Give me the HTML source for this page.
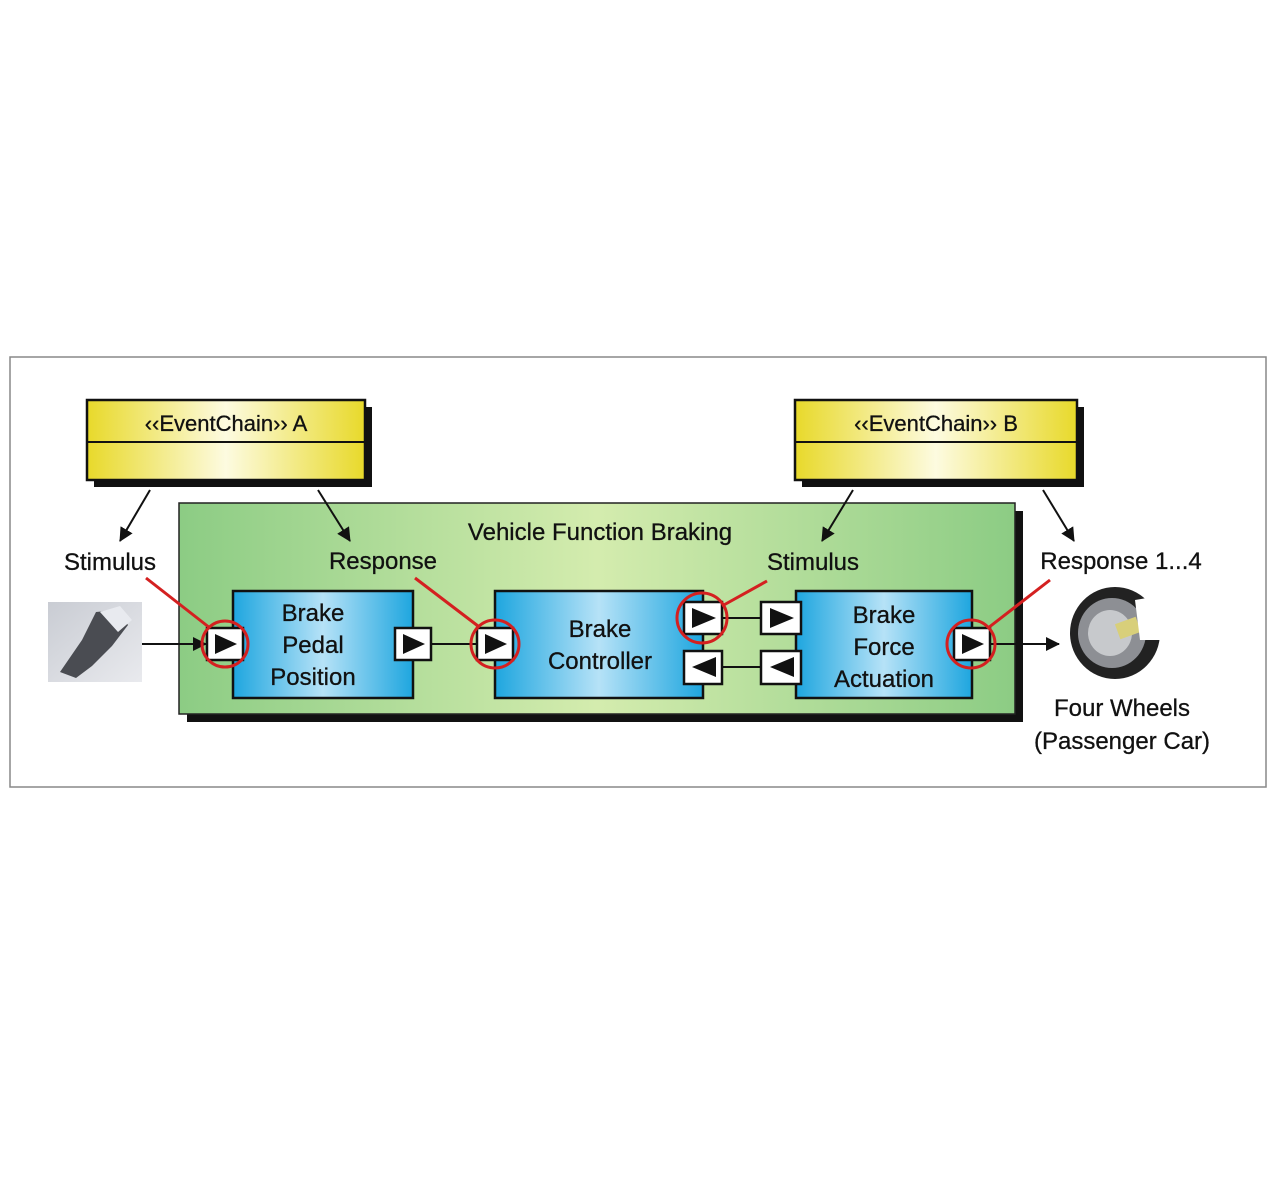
<!DOCTYPE html>
<html><head><meta charset="utf-8"><style>
html,body{margin:0;padding:0;background:#fff;}
svg{display:block;}
text{font-family:"Liberation Sans",sans-serif;fill:#111;stroke:#111;stroke-width:0.3;}
</style></head><body>
<svg width="1280" height="1190" viewBox="0 0 1280 1190" xmlns="http://www.w3.org/2000/svg">
<defs>
<linearGradient id="yel" x1="0" x2="1" y1="0" y2="0">
<stop offset="0" stop-color="#e8d92a"/><stop offset="0.5" stop-color="#fdfbe0"/><stop offset="1" stop-color="#e8d92a"/>
</linearGradient>
<linearGradient id="grn" x1="0" x2="1" y1="0" y2="0">
<stop offset="0" stop-color="#8ccc84"/><stop offset="0.5" stop-color="#d4ecae"/><stop offset="1" stop-color="#8ccc84"/>
</linearGradient>
<linearGradient id="blu" x1="0" x2="1" y1="0" y2="0">
<stop offset="0" stop-color="#1ea6df"/><stop offset="0.5" stop-color="#b6e2f7"/><stop offset="1" stop-color="#1ea6df"/>
</linearGradient>
<linearGradient id="ped" x1="0" x2="1" y1="0" y2="1">
<stop offset="0" stop-color="#c9ccd3"/><stop offset="1" stop-color="#e9eaee"/>
</linearGradient>
<marker id="ah" markerWidth="14" markerHeight="14" refX="13" refY="7" orient="auto" markerUnits="userSpaceOnUse">
<path d="M0,0 L14,7 L0,14 z" fill="#111"/>
</marker>
</defs>
<rect x="10" y="357" width="1256" height="430" fill="#fff" stroke="#888" stroke-width="1.5"/>

<rect x="94" y="407" width="278" height="80" fill="#111"/>
<rect x="87" y="400" width="278" height="80" fill="url(#yel)" stroke="#111" stroke-width="2.5"/>
<line x1="87" y1="442" x2="365" y2="442" stroke="#111" stroke-width="2"/>
<text x="226" y="431" font-size="22" text-anchor="middle">‹‹EventChain›› A</text>
<rect x="802" y="407" width="282" height="80" fill="#111"/>
<rect x="795" y="400" width="282" height="80" fill="url(#yel)" stroke="#111" stroke-width="2.5"/>
<line x1="795" y1="442" x2="1077" y2="442" stroke="#111" stroke-width="2"/>
<text x="936" y="431" font-size="22" text-anchor="middle">‹‹EventChain›› B</text>

<rect x="187" y="511" width="836" height="211" fill="#111"/>
<rect x="179" y="503" width="836" height="211" fill="url(#grn)" stroke="#222" stroke-width="1.5"/>
<text x="600" y="540" font-size="24" text-anchor="middle">Vehicle Function Braking</text>

<g stroke="#111" stroke-width="2" marker-end="url(#ah)">
<line x1="150" y1="490" x2="120" y2="541"/>
<line x1="318" y1="490" x2="350" y2="541"/>
<line x1="853" y1="490" x2="822" y2="541"/>
<line x1="1043" y1="490" x2="1074" y2="541"/>
</g>

<rect x="233" y="591" width="180" height="107" fill="url(#blu)" stroke="#111" stroke-width="2.5"/>
<rect x="495" y="591" width="208" height="107" fill="url(#blu)" stroke="#111" stroke-width="2.5"/>
<rect x="796" y="591" width="176" height="107" fill="url(#blu)" stroke="#111" stroke-width="2.5"/>
<g font-size="24" text-anchor="middle">
<text x="313" y="621">Brake</text><text x="313" y="653">Pedal</text><text x="313" y="685">Position</text>
<text x="600" y="637">Brake</text><text x="600" y="669">Controller</text>
<text x="884" y="623">Brake</text><text x="884" y="655">Force</text><text x="884" y="687">Actuation</text>
</g>

<g stroke="#111" stroke-width="2">
<line x1="142" y1="644" x2="206" y2="644" marker-end="url(#ah)"/>
<line x1="431" y1="644" x2="477" y2="644"/>
<line x1="723" y1="618" x2="760" y2="618"/>
<line x1="723" y1="667" x2="760" y2="667"/>
<line x1="990" y1="644" x2="1059" y2="644" marker-end="url(#ah)"/>
</g>

<g stroke="#111" stroke-width="2.5" fill="#fff">
<rect x="207" y="628" width="36" height="32"/>
<rect x="395" y="628" width="36" height="32"/>
<rect x="477" y="628" width="36" height="32"/>
<rect x="684" y="602" width="38" height="32"/>
<rect x="684" y="651" width="38" height="33"/>
<rect x="761" y="602" width="40" height="32"/>
<rect x="761" y="651" width="40" height="33"/>
<rect x="954" y="628" width="36" height="32"/>
</g>
<g fill="#111">
<path d="M215,634 L237,644 L215,654z"/>
<path d="M403,634 L425,644 L403,654z"/>
<path d="M485,634 L507,644 L485,654z"/>
<path d="M692,608 L716,618 L692,628z"/>
<path d="M716,657 L692,667 L716,677z"/>
<path d="M770,608 L794,618 L770,628z"/>
<path d="M794,657 L770,667 L794,677z"/>
<path d="M962,634 L984,644 L962,654z"/>
</g>

<g stroke="#d42020" stroke-width="3" fill="none">
<circle cx="225" cy="644" r="23"/>
<circle cx="495" cy="644" r="24"/>
<circle cx="702" cy="618" r="25"/>
<circle cx="971" cy="644" r="24"/>
<line x1="146" y1="578" x2="210" y2="628"/>
<line x1="415" y1="578" x2="478" y2="626"/>
<line x1="767" y1="581" x2="722" y2="606"/>
<line x1="1050" y1="580" x2="988" y2="628"/>
</g>

<g font-size="24" text-anchor="middle">
<text x="110" y="570">Stimulus</text>
<text x="383" y="569">Response</text>
<text x="813" y="570">Stimulus</text>
<text x="1121" y="569">Response 1...4</text>
<text x="1122" y="716">Four Wheels</text>
<text x="1122" y="749">(Passenger Car)</text>
</g>

<rect x="48" y="602" width="94" height="80" fill="url(#ped)"/>
<path d="M60,672 L82,640 L96,612 L118,610 L128,625 L112,646 L92,666 L76,678 z" fill="#4a4c52"/>
<path d="M100,612 L120,606 L132,620 L118,632 z" fill="#e8eaef"/>

<ellipse cx="1115" cy="633" rx="45" ry="46" fill="#222"/>
<ellipse cx="1112" cy="633" rx="34" ry="35" fill="#8d8f94"/>
<ellipse cx="1110" cy="633" rx="22" ry="23" fill="#c7c9cc"/>
<rect x="1117" y="620" width="22" height="16" fill="#d8cf7a" transform="rotate(-20 1128 628)"/>
<path d="M1135,600 L1165,595 L1165,640 L1140,640z" fill="#fff"/>
</svg>
</body></html>
